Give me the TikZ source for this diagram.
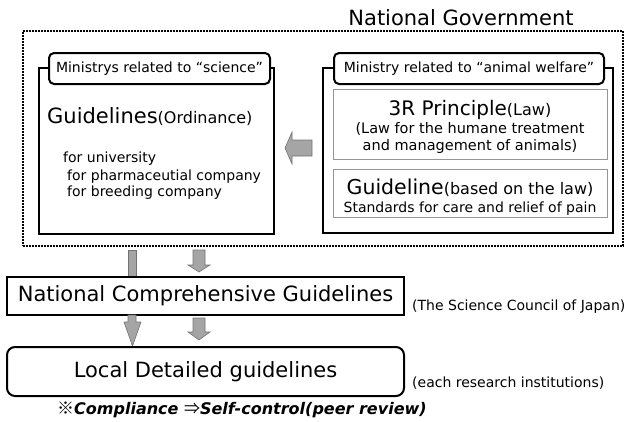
\documentclass[tikz,border=0pt]{standalone}
\usepackage{fontspec}
\setmainfont{DejaVu Sans}
\newfontfamily\cjkfont{Noto Sans CJK JP}
\newcommand\fsz[1]{\fontsize{#1}{#1}\selectfont}
\definecolor{arrowfill}{RGB}{165,165,165}
\definecolor{arrowedge}{RGB}{115,115,115}
\definecolor{thinedge}{RGB}{150,150,150}
\begin{document}
\begin{tikzpicture}[x=1pt,y=-1pt,
  txt/.style={inner sep=0pt},
  heavybox/.style={draw=black,line width=2pt,inner sep=0pt},
  labelbox/.style={draw=black,line width=2pt,fill=white,rounded corners=5pt,inner sep=0pt},
  thinbox/.style={draw=thinedge,line width=0.8pt,inner sep=0pt},
  govbox/.style={draw=black,line width=2pt,dash pattern=on 1.8pt off 1.2pt,inner sep=0pt},
  blockarrow/.style={fill=arrowfill,draw=arrowedge,line width=0.6pt,line join=miter}]
\useasboundingbox (0,0) rectangle (630,421);

% National Government frame
\node[govbox,anchor=north west,minimum width=600pt,minimum height=215pt] (gov) at (22,30) {};
\node[txt] (govtitle) at (461,18) {\fsz{21}National Government};

% science ministry
\node[heavybox,anchor=north west,minimum width=235pt,minimum height=166pt] (sci) at (38,67) {};
\node[labelbox,anchor=north west,minimum width=221pt,minimum height=31pt] (scilabel) at (48,52) {\fsz{14}Ministrys related to “science”};
\node[txt,anchor=base west] (sciguide) at (47,123) {\fsz{21}Guidelines\fsz{16}(Ordinance)};
\node[txt,anchor=base west] (univ) at (63,162) {\fsz{14}for university};
\node[txt,anchor=base west] (pharma) at (67,180) {\fsz{14}for pharmaceutial company};
\node[txt,anchor=base west] (breed) at (67,196) {\fsz{14}for breeding company};

% animal welfare ministry
\node[heavybox,anchor=north west,minimum width=290pt,minimum height=165pt] (ani) at (322,67) {};
\node[labelbox,anchor=north west,minimum width=270pt,minimum height=31pt] (anilabel) at (333,52) {\fsz{14}Ministry related to “animal welfare”};
\node[thinbox,anchor=north west,minimum width=274pt,minimum height=70pt] (law) at (333,89) {};
\node[thinbox,anchor=north west,minimum width=274pt,minimum height=48pt] (guide) at (333,169) {};
\node[txt,anchor=base] (lawtitle) at (470,115) {\fsz{20}3R Principle\fsz{16}(Law)};
\node[txt,anchor=base] (lawsub1) at (470,133) {\fsz{14.5}(Law for the humane treatment};
\node[txt,anchor=base] (lawsub2) at (470,150) {\fsz{14.5}and management of animals)};
\node[txt,anchor=base] (guidetitle) at (470,194) {\fsz{20.5}Guideline\fsz{16}(based on the law)};
\node[txt,anchor=base] (guidesub) at (470,212) {\fsz{14}Standards for care and relief of pain};

% block arrows
\draw[blockarrow] (312,140) -- (292,140) -- (292,132) -- (285,148) -- (292,164) -- (292,156) -- (312,156) -- cycle;
\draw[blockarrow] (128,250) rectangle (136,278);
\draw[blockarrow] (193,250) -- (205,250) -- (205,265) -- (210,265) -- (199,272) -- (188,265) -- (193,265) -- cycle;

% National comprehensive guidelines
\node[heavybox,fill=white,anchor=north west,minimum width=397pt,minimum height=38pt] (ncg) at (6,276) {\fsz{21}National Comprehensive Guidelines};
\node[txt,anchor=base west] (scj) at (412,310) {\fsz{14}(The Science Council of Japan)};

\draw[blockarrow] (128,315) -- (136,315) -- (136,322) -- (141,322) -- (132.5,346) -- (124,322) -- (128,322) -- cycle;
\draw[blockarrow] (193,318) -- (205,318) -- (205,332) -- (210,332) -- (199,340) -- (188,332) -- (193,332) -- cycle;

% Local detailed guidelines
\node[heavybox,rounded corners=8pt,anchor=north west,minimum width=397pt,minimum height=49pt] (ldg) at (6,346) {\fsz{21}Local Detailed guidelines};
\node[txt,anchor=base west] (inst) at (412,387) {\fsz{14}(each research institutions)};
\node[txt,anchor=base west] (comp) at (57,414) {\fsz{16}{\cjkfont\fsz{17}※}\bfseries\itshape Compliance {\cjkfont\mdseries\upshape ⇒}Self-control(peer review)};
\end{tikzpicture}
\end{document}
